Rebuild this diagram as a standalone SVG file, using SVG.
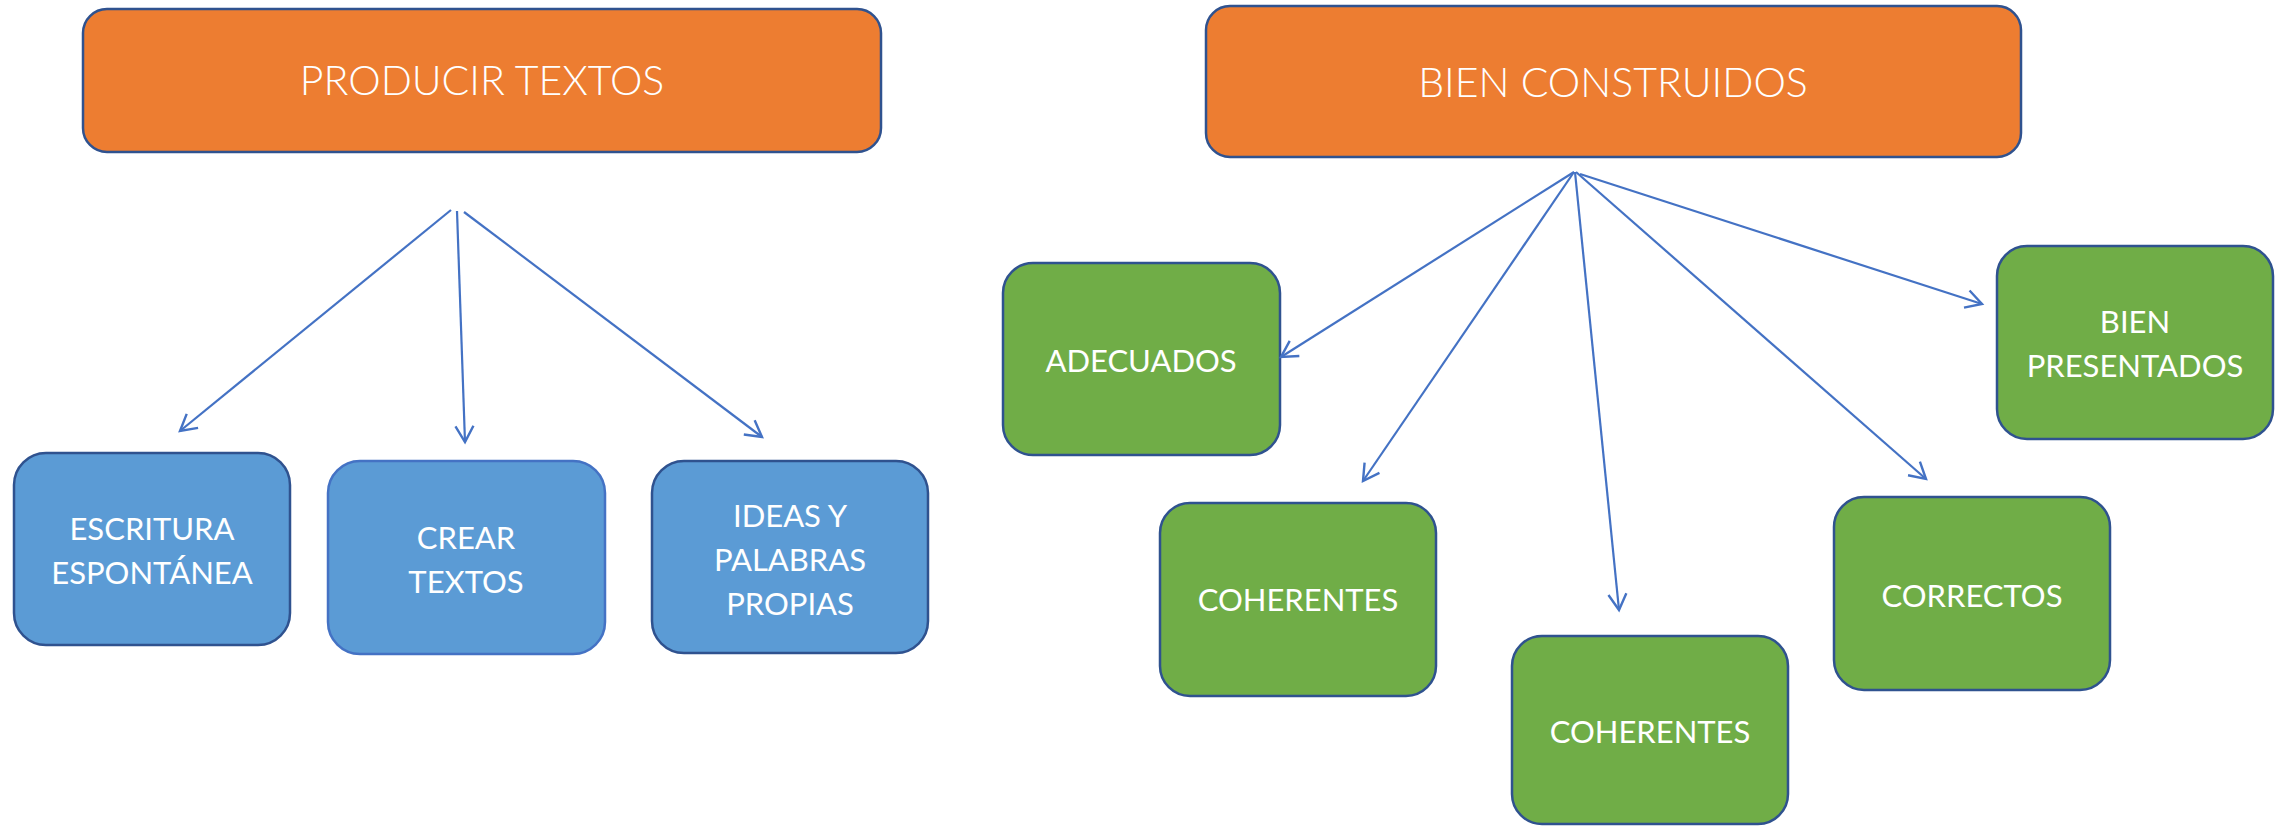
<svg xmlns="http://www.w3.org/2000/svg" width="2287" height="827" viewBox="0 0 2287 827">
<style>
  .orange{fill:#ED7D31;stroke:#2F528F;stroke-width:2.5}
  .blue{fill:#5B9BD5;stroke:#2F528F;stroke-width:2.5}
  .green{fill:#70AD47;stroke:#2F528F;stroke-width:2.5}
  .title{font-family:Lato,"Open Sans",sans-serif;font-weight:300;font-size:41px;fill:#fff;text-anchor:middle}
  .lbl{font-family:Lato,"Open Sans",sans-serif;font-size:31px;fill:#fff;text-anchor:middle}
  .conn line{stroke:#4472C4;stroke-width:2.2;fill:none}
</style>
<defs>
  <marker id="arr" viewBox="-20 -12 24 24" refX="0" refY="0" markerWidth="24" markerHeight="24" markerUnits="userSpaceOnUse" orient="auto">
    <path d="M-16,-9 L0,0 L-16,9" fill="none" stroke="#4472C4" stroke-width="2.4"/>
  </marker>
</defs>
<rect width="2287" height="827" fill="#fff"/>

<g id="producir">
  <rect class="orange" x="83" y="9" width="798" height="143" rx="24"/>
  <text class="title" x="482" y="95">PRODUCIR TEXTOS</text>
</g>
<g id="bien-construidos">
  <rect class="orange" x="1206" y="6" width="815" height="151" rx="24"/>
  <text class="title" x="1613" y="97">BIEN CONSTRUIDOS</text>
</g>

<g id="escritura">
  <rect class="blue" x="14" y="453" width="276" height="192" rx="32"/>
  <text class="lbl" x="152" y="540">ESCRITURA</text>
  <text class="lbl" x="152" y="584">ESPONTÁNEA</text>
</g>
<g id="crear">
  <rect class="blue" x="328" y="461" width="277" height="193" rx="32" style="stroke:#4472C4"/>
  <text class="lbl" x="466" y="549">CREAR</text>
  <text class="lbl" x="466" y="593">TEXTOS</text>
</g>
<g id="ideas">
  <rect class="blue" x="652" y="461" width="276" height="192" rx="32"/>
  <text class="lbl" x="790" y="527">IDEAS Y</text>
  <text class="lbl" x="790" y="571">PALABRAS</text>
  <text class="lbl" x="790" y="615">PROPIAS</text>
</g>

<g id="adecuados">
  <rect class="green" x="1003" y="263" width="277" height="192" rx="30"/>
  <text class="lbl" x="1141" y="372">ADECUADOS</text>
</g>
<g id="coherentes1">
  <rect class="green" x="1160" y="503" width="276" height="193" rx="30"/>
  <text class="lbl" x="1298" y="611">COHERENTES</text>
</g>
<g id="coherentes2">
  <rect class="green" x="1512" y="636" width="276" height="188" rx="30"/>
  <text class="lbl" x="1650" y="743">COHERENTES</text>
</g>
<g id="correctos">
  <rect class="green" x="1834" y="497" width="276" height="193" rx="30"/>
  <text class="lbl" x="1972" y="607">CORRECTOS</text>
</g>
<g id="bien-presentados">
  <rect class="green" x="1997" y="246" width="276" height="193" rx="30"/>
  <text class="lbl" x="2135" y="333">BIEN</text>
  <text class="lbl" x="2135" y="377">PRESENTADOS</text>
</g>

<g id="connectors" class="conn">
  <line x1="451" y1="210" x2="180" y2="431" marker-end="url(#arr)"/>
  <line x1="457" y1="211" x2="465" y2="442" marker-end="url(#arr)"/>
  <line x1="464" y1="212" x2="762" y2="437" marker-end="url(#arr)"/>
  <line x1="1574" y1="172" x2="1281" y2="357" marker-end="url(#arr)"/>
  <line x1="1574" y1="172" x2="1363" y2="481" marker-end="url(#arr)"/>
  <line x1="1575" y1="172" x2="1619" y2="610" marker-end="url(#arr)"/>
  <line x1="1576" y1="172" x2="1926" y2="479" marker-end="url(#arr)"/>
  <line x1="1580" y1="174" x2="1982" y2="304" marker-end="url(#arr)"/>
</g>
</svg>
